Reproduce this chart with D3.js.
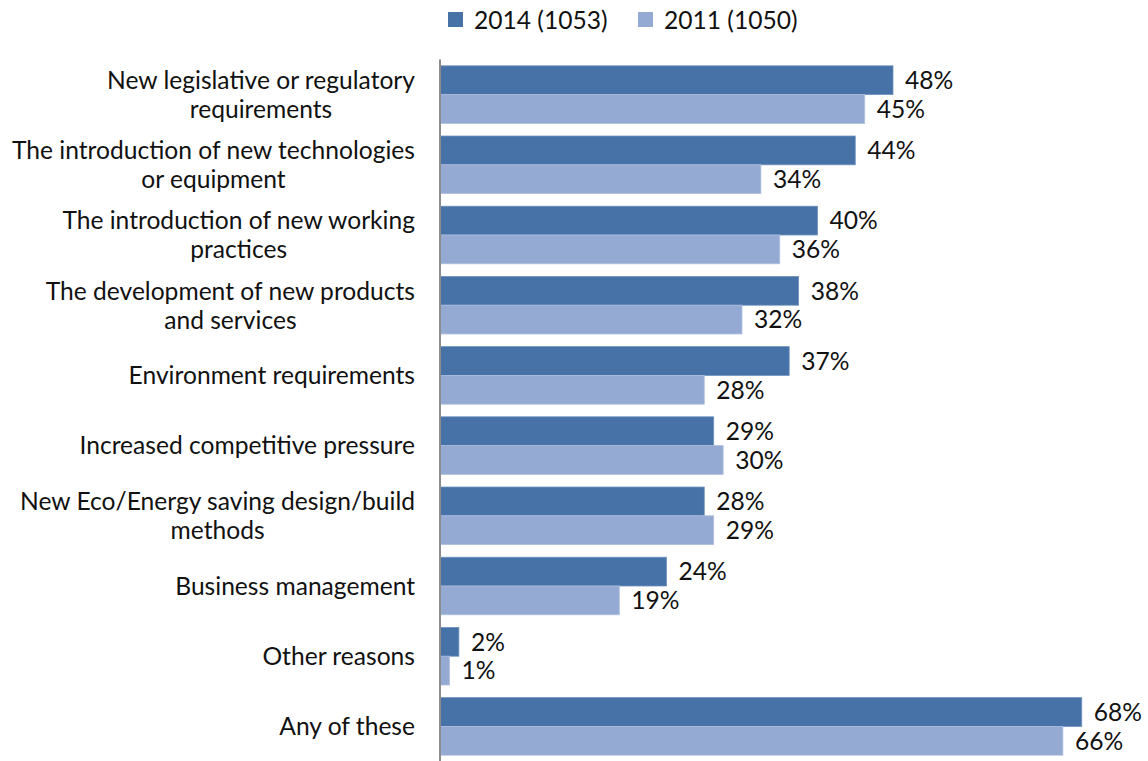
<!DOCTYPE html>
<html>
<head>
<meta charset="utf-8">
<script src="https://cdn.jsdelivr.net/npm/d3@7"></script>
<style>
  html, body { margin: 0; padding: 0; background: #fff; }
  svg { display: block; font-family: "Lato", "Open Sans", sans-serif; }
</style>
</head>
<body>
<svg id="chart" width="1148" height="761"></svg>
<script>
// Reasons for training / skills change, % of respondents
const categories = [
  ["New legislative or regulatory", "requirements"],
  ["The introduction of new technologies", "or equipment"],
  ["The introduction of new working", "practices"],
  ["The development of new products", "and services"],
  ["Environment requirements"],
  ["Increased competitive pressure"],
  ["New Eco/Energy saving design/build", "methods"],
  ["Business management"],
  ["Other reasons"],
  ["Any of these"]
];
const values2014 = [48, 44, 40, 38, 37, 29, 28, 24, 2, 68];
const values2011 = [45, 34, 36, 32, 28, 30, 29, 19, 1, 66];
const seriesNames = ["2014 (1053)", "2011 (1050)"];
const seriesColors = ["#4672a8", "#95aad3"];

const svg = d3.select("#chart");
const axisX = 440, plotTop = 59.5, plotBottom = 761.5;
const fontSize = 24.6;

const x = d3.scaleLinear().domain([0, 48]).range([axisX, 893]);
const y = d3.scaleBand()
  .domain(d3.range(categories.length))
  .range([plotTop, plotBottom])
  .paddingInner(0.18)
  .paddingOuter(0.09);
const ySub = d3.scaleBand().domain([0, 1]).range([0, y.bandwidth()]);

const series = [values2014, values2011];

// bars
series.forEach((vals, si) => {
  svg.append("g")
    .selectAll("rect")
    .data(vals)
    .join("rect")
    .attr("x", x(0))
    .attr("y", (d, i) => y(i) + ySub(si))
    .attr("width", d => x(d) - x(0))
    .attr("height", ySub.bandwidth())
    .attr("fill", seriesColors[si])
    .attr("stroke", si === 0 ? "#6f92bf" : "#aebfdf")
    .attr("stroke-width", 0.8);

  // value labels
  svg.append("g")
    .selectAll("text")
    .data(vals)
    .join("text")
    .attr("x", d => x(d) + 12)
    .attr("y", (d, i) => y(i) + ySub(si) + ySub.bandwidth() / 2)
    .attr("dy", "0.36em")
    .attr("font-size", fontSize)
    .attr("fill", "#111")
    .text(d => d + "%");
});

// vertical axis line
svg.append("line")
  .attr("x1", axisX).attr("x2", axisX)
  .attr("y1", plotTop).attr("y2", plotBottom)
  .attr("stroke", "#8c8c8c")
  .attr("stroke-width", 2);

// category labels: wrapped lines centred on each other, block right-aligned
const lineH = 29, labelRight = 415;
const catG = svg.append("g");
categories.forEach((lines, i) => {
  const cy = y(i) + y.bandwidth() / 2;
  const t = catG.append("text")
    .attr("text-anchor", "middle")
    .attr("font-size", fontSize)
    .attr("fill", "#111");
  const spans = lines.map((ln, j) => t.append("tspan")
    .attr("y", cy + (j - (lines.length - 1) / 2) * lineH)
    .attr("dy", "0.36em")
    .text(ln));
  const widest = d3.max(spans, s => s.node().getComputedTextLength());
  spans.forEach(s => s.attr("x", labelRight - widest / 2));
});

// legend
const legendX = [448, 638];
seriesNames.forEach((name, i) => {
  svg.append("rect")
    .attr("x", legendX[i]).attr("y", 12)
    .attr("width", 15).attr("height", 15)
    .attr("fill", seriesColors[i]);
  svg.append("text")
    .attr("x", legendX[i] + 26).attr("y", 20)
    .attr("dy", "0.36em")
    .attr("font-size", fontSize)
    .attr("fill", "#111")
    .text(name);
});
</script>
</body>
</html>
